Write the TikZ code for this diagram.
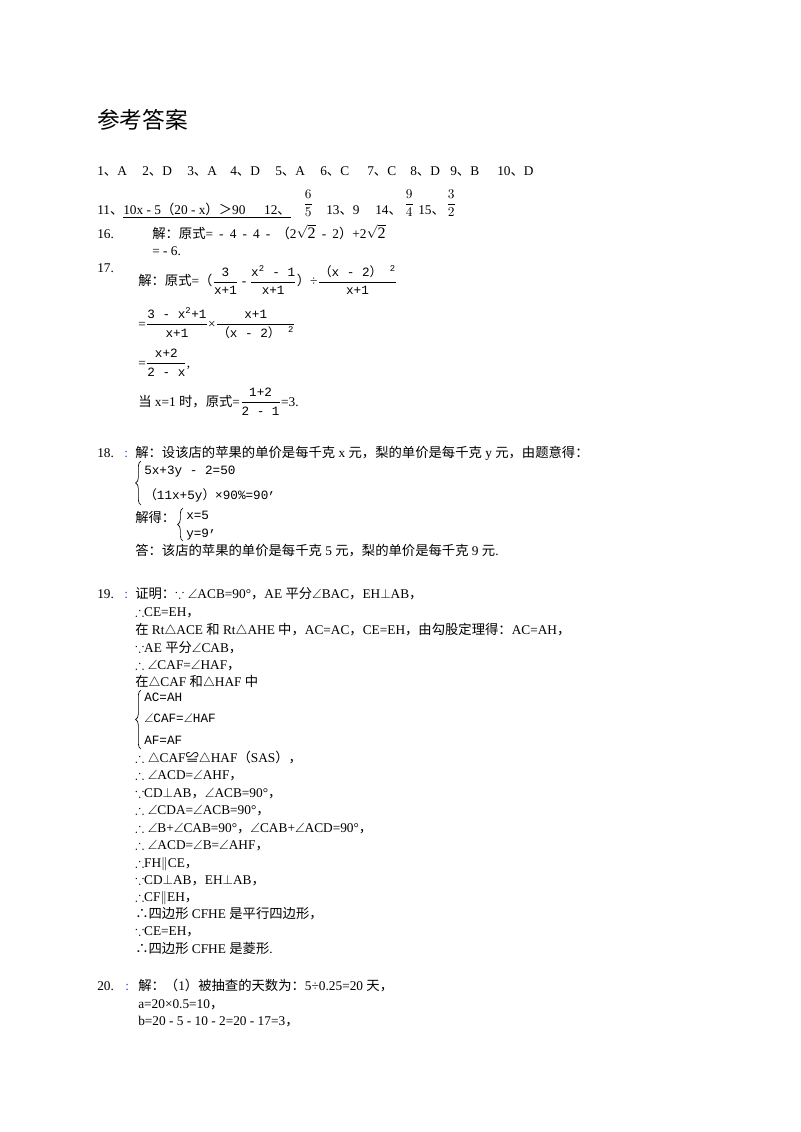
\documentclass[tikz,border=0pt]{standalone}
\usepackage{amsmath,amssymb}
\usepackage{fontspec}
\usetikzlibrary{decorations.pathreplacing}
\setmainfont{Liberation Serif}
\newfontfamily\zhfont{Noto Sans CJK SC}
\newfontfamily\mtfont{Liberation Mono}
\newcommand{\zh}[1]{{\zhfont #1}}
\newcommand{\mt}[1]{{\mtfont\fontsize{9.5}{11}\selectfont #1}}
\newcommand{\fr}[2]{$\dfrac{\text{#1}}{\text{#2}}$}
\newcommand{\frm}[2]{$\dfrac{\text{\mt{#1}}}{\text{\mt{#2}}}$}
\definecolor{colonblue}{RGB}{40,70,230}
\begin{document}
\begin{tikzpicture}[x=0.75pt, y=-0.75pt,
		txt/.style={anchor=base west, inner sep=0pt, font=\fontsize{10}{12}\selectfont},
		colon/.style={txt, text=colonblue},
		row/.style={txt, font=\mtfont\fontsize{9.5}{11}\selectfont},
		brc/.style={decorate, decoration={brace, amplitude=4pt}, line width=0.5pt},
		title/.style={anchor=base west, inner sep=0pt, font=\fontsize{17}{20}\selectfont}]
	\fill[white] (0,0) rectangle (800,1132);
	\useasboundingbox (0,0) rectangle (800,1132);
	% heading
	\node[title] (head) at (97,128) {\zh{参考答案}};
	% 1 - 10
	\foreach \n/\a/\x in {1/A/97, 2/D/142, 3/A/187, 4/D/230, 5/A/275,
			6/C/320, 7/C/367, 8/D/410, 9/B/450, 10/D/497}
		\node[txt] (q\n) at (\x,175) {\n\zh{、}\a};
	% 11 - 15
	\node[txt] (q11) at (97,214) {11\zh{、}};
	\node[txt] (a11) at (123,214) {\underline{10x - 5\zh{（}20 - x\zh{）＞}90\hspace{14pt}12\zh{、}}};
	\node[txt, anchor=west] (a12) at (303,203) {$\dfrac{6}{5}$};
	\node[txt] (q13) at (326,214) {13\zh{、}9};
	\node[txt] (q14) at (375,214) {14\zh{、}};
	\node[txt, anchor=west] (a14) at (404,203) {$\dfrac{9}{4}$};
	\node[txt] (q15) at (418,214) {15\zh{、}};
	\node[txt, anchor=west] (a15) at (446,203) {$\dfrac{3}{2}$};
	% 16
	\node[txt] (q16) at (97,238) {16.};
	\node[txt] (a16) at (152,238) {\spaceskip=4.6pt\zh{解：原式}= - 4 - 4 - \zh{（}2$\sqrt{\text{\large 2}}$ - 2\zh{）}+2$\sqrt{\text{\large 2}}$};
	\node[txt] (a16b) at (152,255) {= - 6.};
	% 17
	\node[txt] (q17) at (97,272) {17.};
	\node[txt] (a17a) at (138,285.5) {\zh{解：原式}=\zh{（}\frm{3}{x+1} - \frm{x\textsuperscript{2} - 1}{x+1}\zh{）}÷\frm{\zh{（}x - 2\zh{）} \textsuperscript{2}}{x+1}};
	\node[txt] (a17b) at (138,328) {=\frm{3 - x\textsuperscript{2}+1}{x+1}×\frm{x+1}{\zh{（}x - 2\zh{）} \textsuperscript{2}}};
	\node[txt] (a17c) at (138,367) {=\frm{x+2}{2 - x},};
	\node[txt] (a17d) at (138,406) {\zh{当} x=1 \zh{时，原式}=\frm{1+2}{2 - 1}=3.};
	% 18
	\node[txt] (q18) at (97,457) {18.};
	\node[colon] (c18) at (124,457) {:};
	\node[txt] (a18) at (135,457) {\zh{解：设该店的苹果的单价是每千克} x \zh{元，梨的单价是每千克} y \zh{元，由题意得：}};
	\node[row] (e1) at (144,474) {5x+3y - 2=50};
	\node[row] (e2) at (144,499) {\zh{（}11x+5y\zh{）}×90\%=90\raisebox{4pt}{,}};
	\coordinate (b18t) at (141,461);
	\coordinate (b18b) at (141,505);
	\draw[brc] (b18b) -- (b18t);
	\node[txt] (j18) at (135,522) {\zh{解得：}};
	\node[row] (x18) at (186,519) {x=5};
	\node[row] (y18) at (186,537) {y=9\raisebox{4pt}{,}};
	\coordinate (c18t) at (183,508);
	\coordinate (c18b) at (183,541);
	\draw[brc] (c18b) -- (c18t);
	\node[txt] (d18) at (135,555) {\zh{答：该店的苹果的单价是每千克} 5 \zh{元，梨的单价是每千克} 9 \zh{元}.};
	% 19
	\node[txt] (q19) at (97,598) {19.};
	\node[colon] (c19) at (124,598) {:};
	\node[txt] (p1) at (135,598) {\zh{证明：}$\because\angle$ACB=90°\zh{，}AE \zh{平分}$\angle$BAC\zh{，}EH$\perp$AB\zh{，}};
	\node[txt] (p2) at (135,616) {$\therefore$CE=EH\zh{，}};
	\node[txt] (p3) at (135,634) {\zh{在} Rt$\triangle$ACE \zh{和} Rt$\triangle$AHE \zh{中，}AC=AC\zh{，}CE=EH\zh{，由勾股定理得：}AC=AH\zh{，}};
	\node[txt] (p4) at (135,652) {$\because$AE \zh{平分}$\angle$CAB\zh{，}};
	\node[txt] (p5) at (135,669) {$\therefore\angle$CAF=$\angle$HAF\zh{，}};
	\node[txt] (p6) at (135,686) {\zh{在}$\triangle$CAF \zh{和}$\triangle$HAF \zh{中}};
	\node[row] (g1) at (144,701) {AC=AH};
	\node[row] (g2) at (144,722) {$\angle$CAF=$\angle$HAF};
	\node[row] (g3) at (144,744) {AF=AF};
	\coordinate (b19t) at (141,690);
	\coordinate (b19b) at (141,749);
	\draw[brc] (b19b) -- (b19t);
	\node[txt] (p7) at (135,762) {$\therefore\triangle$CAF\zh{≌}$\triangle$HAF\zh{（}SAS\zh{），}};
	\node[txt] (p8) at (135,779) {$\therefore\angle$ACD=$\angle$AHF\zh{，}};
	\node[txt] (p9) at (135,797) {$\because$CD$\perp$AB\zh{，}$\angle$ACB=90°\zh{，}};
	\node[txt] (p10) at (135,814) {$\therefore\angle$CDA=$\angle$ACB=90°\zh{，}};
	\node[txt] (p11) at (135,832) {$\therefore\angle$B+$\angle$CAB=90°\zh{，}$\angle$CAB+$\angle$ACD=90°\zh{，}};
	\node[txt] (p12) at (135,849) {$\therefore\angle$ACD=$\angle$B=$\angle$AHF\zh{，}};
	\node[txt] (p13) at (135,867) {$\therefore$FH$\parallel$CE\zh{，}};
	\node[txt] (p14) at (135,884) {$\because$CD$\perp$AB\zh{，}EH$\perp$AB\zh{，}};
	\node[txt] (p15) at (135,901) {$\therefore$CF$\parallel$EH\zh{，}};
	\node[txt] (p16) at (135,918) {\zh{∴四边形} CFHE \zh{是平行四边形，}};
	\node[txt] (p17) at (135,935) {$\because$CE=EH\zh{，}};
	\node[txt] (p18) at (135,953) {\zh{∴四边形} CFHE \zh{是菱形}.};
	% 20
	\node[txt] (q20) at (97,990) {20.};
	\node[colon] (c20) at (125,990) {:};
	\node[txt] (r1) at (138,990) {\zh{解：（}1\zh{）被抽查的天数为：}5÷0.25=20 \zh{天，}};
	\node[txt] (r2) at (138,1008) {a=20×0.5=10\zh{，}};
	\node[txt] (r3) at (138,1025) {b=20 - 5 - 10 - 2=20 - 17=3\zh{，}};
\end{tikzpicture}
\end{document}
